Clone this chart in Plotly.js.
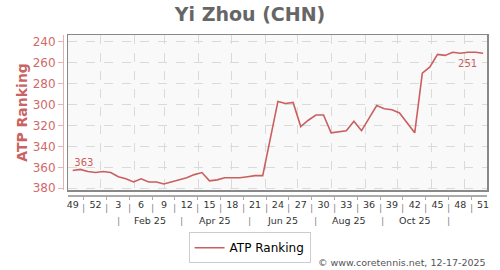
<!DOCTYPE html>
<html>
<head>
<meta charset="utf-8">
<script src="https://cdn.plot.ly/plotly-3.0.1.min.js"></script>
<style>html,body{margin:0;padding:0;background:#fff}#chart{width:500px;height:270px}</style>
</head>
<body>
<div id="chart"></div>
<script>
// ATP ranking per week, week 49 of 2024 through week 51 of 2025 (index 0..54)
const ranks = [363,362,364,365,364,365,369,371,374,371,
               374,374,376,374,372,370,367,365,373,372,
               370,370,370,369,368,368,null,297,299,298,
               321,315,310,310,327,326,325,316,325,313,
               301,304,305,308,318,327,270,264,252,253,
               250,251,250,250,251];
// week-number tick labels (every third week)
const weekLabels = ['49','52','3','6','9','12','15','18','21','24','27','30','33','36','39','42','45','48','51'];
const weekLabelIdx = [0,3,6,9,12,15,18,21,24,27,30,33,36,39,42,45,48,51,54];
// month row labels
const monthLabels = ['Feb 25','Apr 25','Jun 25','Aug 25','Oct 25'];
const monthLabelIdx = [10.15,18.75,27.55,36.3,45.05];
const monthSepIdx = [6.0,14.3,23.2,31.9,40.7,49.4];
// month-start gridline positions (week index)
const monthGridIdx = [3.6,8.07,12.05,16.5,20.9,25.3,29.55,34.07,38.5,42.76,47.2,51.5];
const yTicks = [240,260,280,300,320,340,360,380];

const idx = ranks.map((_, i) => i);
const lineColor = '#c95f5f';
const font = 'DejaVu Sans, Verdana, sans-serif';

// label first and last values
const lastI = ranks.length - 1;
const lblX = [0, lastI];
const lblY = [ranks[0], ranks[lastI]];
const lblT = [String(ranks[0]), String(ranks[lastI])];

const traces = [
  {x: idx, y: ranks, type: 'scatter', mode: 'lines', name: 'ATP Ranking',
   connectgaps: true, line: {color: lineColor, width: 1.6}, hoverinfo: 'skip'},
  {x: lblX, y: lblY, text: lblT, type: 'scatter', mode: 'markers+text', showlegend: false,
   marker: {size: [1, 8], opacity: 0},
   textposition: ['top right', 'bottom left'],
   textfont: {family: font, size: 10, color: lineColor}, hoverinfo: 'skip'},
  // helper trace to activate the outer axes
  {x: [idx[0]], y: [ranks[0]], xaxis: 'x2', yaxis: 'y2', mode: 'none', type: 'scatter', showlegend: false, hoverinfo: 'skip'}
];

const xr = [-0.62, 54.51];
const yr = [381.7, 233.5];

const annotations = [];
weekLabelIdx.slice(0, -1).forEach(v => annotations.push({
  x: v + 1.45, xref: 'x', y: -0.03, yref: 'paper', yanchor: 'top', text: '|', showarrow: false,
  font: {family: font, size: 9.5, color: '#888'}
}));
monthLabels.forEach((t, k) => annotations.push({
  x: monthLabelIdx[k], xref: 'x', y: -0.115, yref: 'paper', yanchor: 'top', text: t, showarrow: false,
  font: {family: font, size: 9.5, color: '#333'}
}));
monthSepIdx.forEach(v => annotations.push({
  x: v, xref: 'x', y: -0.115, yref: 'paper', yanchor: 'top', text: '|', showarrow: false,
  font: {family: font, size: 9.5, color: '#888'}
}));
annotations.push({
  x: 1.0024, xref: 'paper', xanchor: 'right', y: -0.419, yref: 'paper', yanchor: 'middle',
  text: '© www.coretennis.net, 12-17-2025', showarrow: false,
  font: {family: font, size: 9.5, color: '#555'}
});

const layout = {
  width: 500, height: 270,
  margin: {l: 63, r: 13, t: 35, b: 75, autoexpand: false},
  paper_bgcolor: '#ffffff', plot_bgcolor: '#f9f9f9',
  font: {family: font},
  title: {text: '<b>Yi Zhou (CHN)</b>', font: {family: font, size: 19, color: '#666'},
          x: 0.5, xref: 'container', xanchor: 'center', y: 0.948, yref: 'container', yanchor: 'middle'},
  xaxis: {domain: [5/424, 1], range: xr, fixedrange: true, showline: true, mirror: true,
          linecolor: '#888', linewidth: 1.5, zeroline: false,
          tickmode: 'array', tickvals: monthGridIdx, showticklabels: false, ticks: '',
          showgrid: true, gridcolor: '#dadada', griddash: 'dash', gridwidth: 1},
  yaxis: {domain: [5/160, 1], range: yr, fixedrange: true, showline: true, mirror: true,
          linecolor: '#888', linewidth: 1.5, zeroline: false,
          tickmode: 'array', tickvals: yTicks, showticklabels: false, ticks: '',
          showgrid: true, gridcolor: '#dadada', griddash: 'dash', gridwidth: 1},
  xaxis2: {overlaying: 'x', anchor: 'free', position: 0, side: 'bottom', range: xr,
           showline: true, linecolor: '#aaa', linewidth: 1.5, zeroline: false, showgrid: false,
           tickmode: 'array', tickvals: weekLabelIdx, ticktext: weekLabels, ticks: '',
           tickfont: {family: font, size: 9.5, color: '#333'},
           minor: {ticks: 'outside', ticklen: 3, tickcolor: '#aaa', tick0: 1.45, dtick: 3, showgrid: false}},
  yaxis2: {overlaying: 'y', anchor: 'free', position: 0, side: 'left', range: yr,
           showline: true, linecolor: '#e6b3b3', linewidth: 1, zeroline: false, showgrid: false,
           tickmode: 'array', tickvals: yTicks, ticks: 'outside', ticklen: 5, tickcolor: '#e6b3b3',
           tickfont: {family: font, size: 12, color: '#d06a6a'},
           title: {text: '<b>ATP Ranking</b>', font: {family: font, size: 14, color: '#c96464'}, standoff: 0}},
  showlegend: true,
  legend: {orientation: 'h', x: 0.44, xanchor: 'center', y: -0.33, yanchor: 'middle',
           bordercolor: '#ccc', borderwidth: 1, bgcolor: '#fff',
           font: {family: font, size: 12, color: '#000'}},
  annotations: annotations
};

Plotly.newPlot('chart', traces, layout, {displayModeBar: false, staticPlot: true});
</script>
</body>
</html>
